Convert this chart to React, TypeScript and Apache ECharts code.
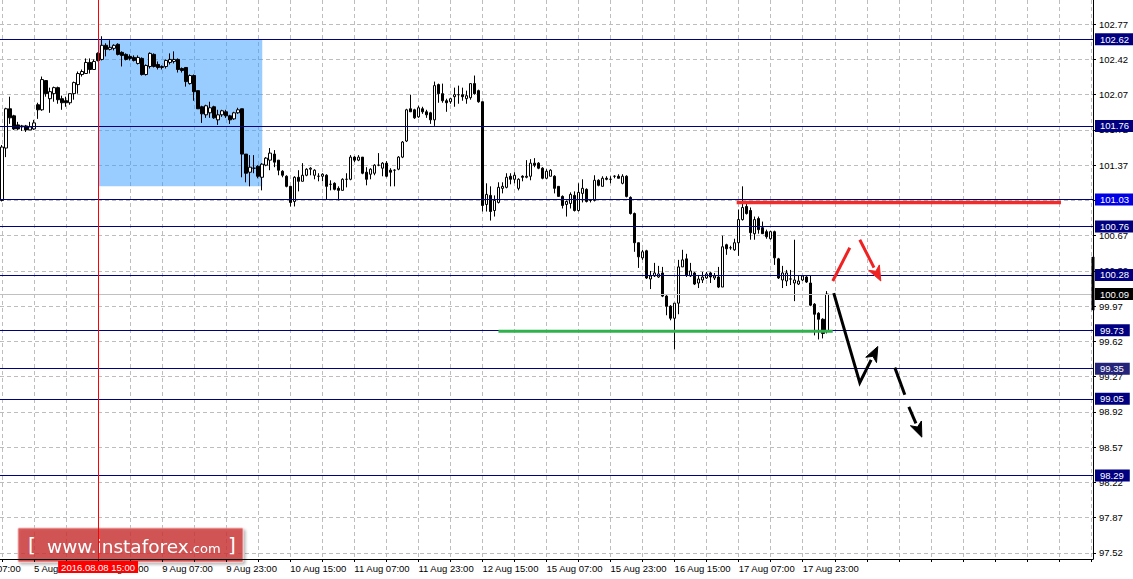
import React, { useEffect, useRef } from "react";
import * as echarts from "echarts";

const FONT = "'Liberation Sans', Arial, sans-serif";

// hourly candles, first one is Fri 5 Aug 2016 15:00 (weekend hours are skipped)
const startTime = Date.UTC(2016, 7, 5, 15);
const slotCount = 273;
const monthNames = ["Jan", "Feb", "Mar", "Apr", "May", "Jun", "Jul", "Aug", "Sep", "Oct", "Nov", "Dec"];

// [open, close, low, high]
const candles: number[][] = [
  [101.02, 101.55, 101.01, 101.57], [101.54, 101.93, 101.45, 101.94], [101.93, 101.84, 101.78, 102.05], [101.86, 101.73, 101.72, 101.87],
  [101.77, 101.73, 101.72, 101.80], [101.75, 101.76, 101.71, 101.77], [101.76, 101.72, 101.70, 101.77], [101.72, 101.75, 101.72, 101.80],
  [101.73, 101.79, 101.72, 101.82], [101.97, 101.92, 101.83, 101.99], [101.92, 102.22, 101.91, 102.25], [102.21, 102.08, 102.05, 102.21],
  [102.03, 102.10, 101.89, 102.14], [102.08, 102.14, 102.00, 102.15], [102.14, 102.02, 101.98, 102.15], [102.03, 101.99, 101.92, 102.06],
  [102.01, 101.99, 101.95, 102.05], [101.99, 102.08, 101.97, 102.08], [102.08, 102.19, 102.02, 102.20], [102.17, 102.28, 102.08, 102.30],
  [102.27, 102.30, 102.25, 102.32], [102.28, 102.39, 102.28, 102.43], [102.39, 102.32, 102.28, 102.43], [102.32, 102.40, 102.32, 102.42],
  [102.48, 102.41, 102.40, 102.49], [102.42, 102.56, 102.41, 102.65], [102.56, 102.52, 102.45, 102.58], [102.52, 102.54, 102.51, 102.61],
  [102.53, 102.56, 102.51, 102.57], [102.57, 102.47, 102.46, 102.58], [102.49, 102.46, 102.35, 102.50], [102.47, 102.42, 102.41, 102.48],
  [102.45, 102.43, 102.41, 102.47], [102.44, 102.41, 102.40, 102.46], [102.38, 102.44, 102.37, 102.46], [102.43, 102.27, 102.26, 102.44],
  [102.27, 102.36, 102.26, 102.37], [102.35, 102.48, 102.33, 102.49], [102.47, 102.35, 102.34, 102.48], [102.37, 102.34, 102.32, 102.40],
  [102.34, 102.35, 102.32, 102.36], [102.35, 102.41, 102.33, 102.42], [102.39, 102.42, 102.37, 102.48], [102.40, 102.42, 102.38, 102.50],
  [102.42, 102.32, 102.29, 102.43], [102.33, 102.31, 102.29, 102.34], [102.34, 102.20, 102.15, 102.34], [102.18, 102.26, 102.17, 102.27],
  [102.26, 102.10, 102.01, 102.27], [102.11, 101.93, 101.93, 102.11], [101.95, 101.88, 101.79, 101.96], [101.87, 101.96, 101.84, 101.97],
  [101.89, 101.94, 101.84, 102.00], [101.95, 101.84, 101.83, 101.96], [101.82, 101.87, 101.77, 101.92], [101.87, 101.91, 101.85, 101.92],
  [101.90, 101.86, 101.84, 101.92], [101.86, 101.82, 101.78, 101.87], [101.83, 101.89, 101.82, 101.90], [101.89, 101.92, 101.88, 101.94],
  [101.93, 101.48, 101.25, 101.93], [101.48, 101.29, 101.20, 101.48], [101.30, 101.35, 101.16, 101.47], [101.34, 101.34, 101.29, 101.47],
  [101.36, 101.26, 101.24, 101.37], [101.25, 101.38, 101.12, 101.39], [101.37, 101.44, 101.36, 101.45], [101.42, 101.49, 101.32, 101.54],
  [101.48, 101.40, 101.35, 101.52], [101.42, 101.32, 101.27, 101.42], [101.31, 101.27, 101.25, 101.32], [101.26, 101.16, 101.15, 101.27],
  [101.16, 101.00, 100.96, 101.16], [101.01, 101.25, 100.96, 101.26], [101.25, 101.21, 101.11, 101.32], [101.21, 101.27, 101.21, 101.39],
  [101.27, 101.33, 101.26, 101.34], [101.33, 101.34, 101.27, 101.35], [101.27, 101.32, 101.23, 101.33], [101.26, 101.26, 101.21, 101.29],
  [101.26, 101.28, 101.21, 101.29], [101.27, 101.16, 101.03, 101.28], [101.18, 101.18, 101.12, 101.22], [101.19, 101.13, 101.12, 101.20],
  [101.14, 101.12, 101.02, 101.16], [101.12, 101.23, 101.12, 101.24], [101.23, 101.23, 101.15, 101.29], [101.23, 101.45, 101.22, 101.47],
  [101.45, 101.42, 101.40, 101.46], [101.42, 101.45, 101.41, 101.47], [101.45, 101.29, 101.28, 101.45], [101.30, 101.23, 101.17, 101.35],
  [101.28, 101.33, 101.23, 101.34], [101.29, 101.37, 101.27, 101.38], [101.37, 101.37, 101.36, 101.49], [101.34, 101.39, 101.26, 101.40],
  [101.39, 101.26, 101.25, 101.41], [101.32, 101.30, 101.16, 101.34], [101.32, 101.32, 101.16, 101.33], [101.33, 101.45, 101.32, 101.46],
  [101.45, 101.60, 101.44, 101.61], [101.61, 101.92, 101.60, 101.93], [101.93, 101.90, 101.90, 102.07], [101.92, 101.84, 101.83, 101.93],
  [101.85, 101.94, 101.84, 101.96], [101.93, 101.90, 101.88, 101.95], [101.90, 101.87, 101.84, 101.92], [101.89, 101.82, 101.78, 101.90],
  [101.82, 102.16, 101.76, 102.20], [102.17, 102.08, 101.99, 102.18], [102.08, 102.01, 101.99, 102.18], [102.01, 101.99, 101.90, 102.03],
  [102.00, 102.03, 101.98, 102.04], [102.05, 102.07, 101.95, 102.14], [102.07, 102.07, 101.98, 102.16], [102.07, 102.05, 102.01, 102.14],
  [102.03, 102.06, 101.98, 102.11], [102.04, 102.18, 102.02, 102.18], [102.18, 102.08, 102.07, 102.26], [102.11, 102.00, 101.99, 102.12],
  [102.00, 100.97, 100.91, 102.00], [100.98, 101.08, 100.91, 101.19], [101.07, 100.91, 100.82, 101.16], [100.92, 101.02, 100.86, 101.07],
  [101.00, 101.15, 100.99, 101.20], [101.14, 101.16, 101.09, 101.20], [101.15, 101.25, 101.14, 101.29], [101.26, 101.23, 101.18, 101.29],
  [101.23, 101.27, 101.19, 101.30], [101.14, 101.23, 101.12, 101.24], [101.26, 101.25, 101.21, 101.27], [101.25, 101.26, 101.24, 101.42],
  [101.26, 101.39, 101.22, 101.43], [101.39, 101.37, 101.35, 101.44], [101.39, 101.34, 101.33, 101.40], [101.34, 101.24, 101.23, 101.35],
  [101.24, 101.31, 101.23, 101.33], [101.26, 101.32, 101.26, 101.33], [101.26, 101.14, 101.09, 101.27], [101.16, 101.06, 101.06, 101.16],
  [101.06, 100.97, 100.94, 101.07], [100.98, 101.01, 100.86, 101.02], [100.99, 101.08, 100.94, 101.10], [101.07, 100.92, 100.91, 101.11],
  [100.92, 101.10, 100.91, 101.19], [101.09, 101.14, 101.00, 101.23], [101.13, 101.01, 101.00, 101.14], [101.02, 101.02, 101.00, 101.03],
  [101.02, 101.22, 101.01, 101.27], [101.22, 101.17, 101.16, 101.23], [101.16, 101.24, 101.16, 101.26], [101.24, 101.23, 101.22, 101.26],
  [101.23, 101.23, 101.19, 101.26], [101.26, 101.26, 101.24, 101.27], [101.26, 101.24, 101.24, 101.28], [101.19, 101.26, 101.18, 101.28],
  [101.26, 101.06, 101.05, 101.27], [101.05, 100.89, 100.88, 101.06], [100.89, 100.60, 100.51, 100.90], [100.60, 100.46, 100.35, 100.60],
  [100.45, 100.51, 100.43, 100.53], [100.52, 100.25, 100.24, 100.53], [100.24, 100.27, 100.14, 100.32], [100.27, 100.30, 100.26, 100.40],
  [100.26, 100.29, 100.25, 100.37], [100.30, 100.07, 100.06, 100.36], [100.07, 99.97, 99.88, 100.08], [99.97, 99.85, 99.83, 99.98],
  [99.85, 100.00, 99.54, 100.00], [100.00, 100.36, 99.89, 100.43], [100.36, 100.43, 100.36, 100.53], [100.44, 100.28, 100.26, 100.49],
  [100.27, 100.32, 100.26, 100.40], [100.30, 100.19, 100.18, 100.31], [100.20, 100.24, 100.15, 100.28], [100.23, 100.26, 100.20, 100.31],
  [100.25, 100.29, 100.24, 100.31], [100.30, 100.26, 100.20, 100.31], [100.25, 100.27, 100.23, 100.30], [100.26, 100.16, 100.15, 100.36],
  [100.16, 100.56, 100.16, 100.67], [100.58, 100.54, 100.48, 100.59], [100.55, 100.55, 100.53, 100.57], [100.53, 100.60, 100.52, 100.64],
  [100.60, 100.83, 100.47, 100.93], [100.83, 100.95, 100.82, 101.16], [100.96, 100.89, 100.88, 100.99], [100.92, 100.70, 100.63, 100.95],
  [100.69, 100.83, 100.63, 100.86], [100.84, 100.73, 100.69, 100.86], [100.75, 100.69, 100.69, 100.81], [100.71, 100.66, 100.64, 100.73],
  [100.64, 100.71, 100.63, 100.72], [100.71, 100.45, 100.38, 100.72], [100.44, 100.25, 100.24, 100.45], [100.23, 100.30, 100.15, 100.37],
  [100.22, 100.30, 100.17, 100.33], [100.24, 100.24, 100.18, 100.33], [100.20, 100.23, 100.02, 100.63], [100.19, 100.22, 100.18, 100.27],
  [100.23, 100.27, 100.22, 100.28], [100.26, 100.21, 100.20, 100.27], [100.20, 99.98, 99.97, 100.27], [99.99, 99.89, 99.68, 100.00],
  [99.90, 99.84, 99.64, 99.91], [99.84, 99.70, 99.65, 99.85], [99.72, 100.09, 99.70, 100.12],
];

const yTicks = [102.77, 102.42, 102.07, 101.72, 101.37, 101.02, 100.67, 100.32, 99.97, 99.62, 99.27, 98.92, 98.57, 98.22, 97.87, 97.52];
const yMin = 97.46;
const yMax = 103.01;

const levels = [102.62, 101.76, 101.03, 100.76, 100.28, 99.73, 99.35, 99.05, 98.29];
const levelBoxColors = ["#000080", "#000080", "#0000e6", "#000080", "#000080", "#000080", "#23237a", "#000080", "#000080"];
const lastPrice = 100.09;
const markedIndex = 24;
const markedTime = "2016.08.08 15:00";
const previousLabel = "5 Aug 07:00";
const boxRange = { from: 24, to: 65, top: 102.62, bottom: 101.16 };

// hand-drawn annotations, [slot index, price]
const redLevel = [[183.5, 101.0], [264.5, 101.0]];
const greenLevel = [[124, 99.72], [207.5, 99.72]];
const redStroke = [[207.5, 100.22], [211.75, 100.55]];
const redArrow = [[214.25, 100.63], [219.5, 100.22]];
const blackPath = [[207.75, 100.1], [214.25, 99.21], [218.75, 99.57]];
const blackDash = [[223, 99.36], [225.5, 99.09]];
const blackArrow = [[226.5, 98.97], [229.75, 98.67]];
const axisBar = [100.46, 99.93];

const annotations = [
  { pts: redLevel, color: "#f02c2c", width: 3.5, arrow: false },
  { pts: greenLevel, color: "#2fb24c", width: 3, arrow: false },
  { pts: redStroke, color: "#ee2222", width: 3, arrow: false },
  { pts: redArrow, color: "#ee2222", width: 3, arrow: true },
  { pts: blackPath, color: "#000000", width: 3, arrow: true },
  { pts: blackDash, color: "#000000", width: 3, arrow: false },
  { pts: blackArrow, color: "#000000", width: 3, arrow: true },
  { pts: [], color: "#000000", width: 3, arrow: false, bar: true },
];

function pad(n: number) {
  return n < 10 ? "0" + n : "" + n;
}

function buildHours(): string[] {
  const out: string[] = [];
  let t = startTime;
  while (out.length < slotCount) {
    const d = new Date(t);
    const dow = d.getUTCDay();
    if (dow !== 0 && dow !== 6) {
      out.push(`${d.getUTCDate()} ${monthNames[d.getUTCMonth()]} ${pad(d.getUTCHours())}:00`);
    }
    t += 3600000;
  }
  return out;
}

export default function App() {
  const ref = useRef<HTMLDivElement>(null);

  useEffect(() => {
    if (!ref.current) return;
    const chart = echarts.init(ref.current, undefined, { renderer: "svg" });
    const hours = buildHours();

    const boxLabel = (text: string, bg: string) => ({
      show: true,
      position: "end",
      formatter: text,
      backgroundColor: bg,
      color: "#fff",
      padding: [1, 6, 0, 5],
      distance: 2,
      fontSize: 9.5,
      lineHeight: 11,
      fontFamily: FONT,
    });

    const levelLines = levels.map((v, k) => ({
      yAxis: v,
      lineStyle: { color: "#000080", width: 1, type: "solid" },
      label: boxLabel(v.toFixed(2), levelBoxColors[k]),
    }));

    const option: any = {
      animation: false,
      backgroundColor: "#fff",
      grid: { left: 0, right: 40, top: 0, bottom: 20, containLabel: false, outerBoundsMode: "none" },
      xAxis: {
        type: "category",
        data: hours,
        boundaryGap: true,
        axisLine: { show: true, lineStyle: { color: "#000", width: 1 } },
        axisTick: {
          show: true,
          alignWithLabel: true,
          interval: (i: number) => i % 8 === 0,
          length: 3,
          lineStyle: { color: "#000" },
        },
        axisLabel: {
          interval: (i: number) => i >= 8 && i < candles.length && (i - 8) % 16 === 0,
          align: "left",
          margin: 4,
          color: "#000",
          fontSize: 9.5,
          fontFamily: FONT,
        },
        splitLine: {
          show: true,
          interval: (i: number) => i % 8 === 0,
          alignWithLabel: true,
          lineStyle: { color: "#bdbdbd", type: [4, 3], width: 1 },
        },
      },
      yAxis: {
        type: "value",
        position: "right",
        min: yMin,
        max: yMax,
        axisLine: { show: true, lineStyle: { color: "#000", width: 1 } },
        axisTick: { show: true, length: 3, customValues: yTicks, lineStyle: { color: "#000" } },
        axisLabel: {
          customValues: yTicks,
          formatter: (v: number) => v.toFixed(2),
          color: "#000",
          fontSize: 9.5,
          fontFamily: FONT,
          margin: 6,
        },
        splitLine: { show: true, lineStyle: { color: "#bdbdbd", type: [4, 3], width: 1 } },
      },
      series: [
        {
          type: "candlestick",
          data: candles,
          barWidth: 3,
          silent: true,
          itemStyle: { color: "#fff", color0: "#000", borderColor: "#000", borderColor0: "#000", borderWidth: 1 },
          markArea: {
            silent: true,
            z: 1,
            itemStyle: { color: "rgba(51,153,255,0.5)" },
            data: [[{ xAxis: boxRange.from, yAxis: boxRange.top }, { xAxis: boxRange.to, yAxis: boxRange.bottom }]],
          },
          markLine: {
            silent: true,
            symbol: ["none", "none"],
            data: [
              ...levelLines,
              {
                yAxis: lastPrice,
                lineStyle: { color: "#c0c0c0", width: 1, type: "solid" },
                label: boxLabel(lastPrice.toFixed(2), "#000"),
              },
              {
                xAxis: markedIndex,
                lineStyle: { color: "#ff0000", width: 1, type: "solid" },
                label: {
                  show: true,
                  position: "start",
                  formatter: markedTime,
                  backgroundColor: "#ff0000",
                  color: "#fff",
                  padding: [1, 3, 0, 3],
                  distance: 2,
                  fontSize: 9.5,
                  lineHeight: 11,
                  fontFamily: FONT,
                },
              },
            ],
          },
        },
        {
          type: "custom",
          z: 6,
          silent: true,
          clip: false,
          data: annotations.map((_, k) => [k, lastPrice]),
          renderItem: (params: any, api: any) => {
            const a = annotations[params.dataIndex];
            const cs = params.coordSys;
            if ((a as any).bar) {
              const p1 = api.coord([0, axisBar[0]]);
              const p2 = api.coord([0, axisBar[1]]);
              const x = cs.x + cs.width;
              return {
                type: "line",
                shape: { x1: x, y1: p1[1], x2: x, y2: p2[1] },
                style: { stroke: "#000", lineWidth: 3 },
              };
            }
            const bw = api.size([1, 0])[0];
            const px = (pt: number[]) => {
              const b = Math.floor(pt[0]);
              const c = api.coord([b, pt[1]]);
              return [c[0] + (pt[0] - b) * bw, c[1]];
            };
            const pts = a.pts.map(px);
            const children: any[] = [];
            if (a.arrow) {
              const n = pts.length;
              const tip = pts[n - 1];
              const prev = pts[n - 2];
              const dx = tip[0] - prev[0];
              const dy = tip[1] - prev[1];
              const len = Math.sqrt(dx * dx + dy * dy) || 1;
              const ux = dx / len;
              const uy = dy / len;
              const headLen = 15;
              const headHalf = 6;
              const base = [tip[0] - ux * headLen, tip[1] - uy * headLen];
              const linePts = pts.slice(0, n - 1).concat([base]);
              children.push({
                type: "polyline",
                shape: { points: linePts },
                style: { stroke: a.color, lineWidth: a.width, fill: null },
              });
              children.push({
                type: "polygon",
                shape: {
                  points: [
                    tip,
                    [base[0] - uy * headHalf, base[1] + ux * headHalf],
                    [base[0] + ux * 4, base[1] + uy * 4],
                    [base[0] + uy * headHalf, base[1] - ux * headHalf],
                  ],
                },
                style: { fill: a.color, stroke: a.color, lineWidth: 1 },
              });
            } else {
              children.push({
                type: "polyline",
                shape: { points: pts },
                style: { stroke: a.color, lineWidth: a.width, fill: null },
              });
            }
            return { type: "group", children };
          },
        },
      ],
    };

    chart.setOption(option);

    // cut-off label of the slot 8 hours before the first label, and the watermark
    const c0 = chart.convertToPixel({ xAxisIndex: 0 }, 0) as number;
    const c1 = chart.convertToPixel({ xAxisIndex: 0 }, 1) as number;
    const bandW = c1 - c0;
    chart.setOption({
      graphic: [
        {
          type: "text",
          x: c0 - 8 * bandW,
          y: 563,
          z: 50,
          style: { text: previousLabel, fill: "#000", font: `9.5px ${FONT}` },
        },
        {
          type: "group",
          x: 18,
          y: 528,
          z: 100,
          children: [
            {
              type: "rect",
              shape: { x: 0, y: 0, width: 225, height: 34, r: 1 },
              style: {
                fill: "rgba(206,52,52,0.78)",
                stroke: "rgba(245,190,190,0.9)",
                lineWidth: 1,
                shadowBlur: 3,
                shadowColor: "rgba(0,0,0,0.35)",
                shadowOffsetX: 2,
                shadowOffsetY: 2,
              },
            },
            {
              type: "text",
              x: 10,
              y: 17,
              style: {
                text: "[",
                fill: "#fff",
                font: `20px 'DejaVu Sans', sans-serif`,
                verticalAlign: "middle",
              },
            },
            {
              type: "text",
              x: 29,
              y: 18,
              style: {
                text: "{a|www.instaforex}{b|.com}",
                verticalAlign: "middle",
                rich: {
                  a: { fill: "#fff", fontSize: 18.5, fontFamily: "'DejaVu Sans', sans-serif" },
                  b: { fill: "#fff", fontSize: 13, fontFamily: "'DejaVu Sans', sans-serif", padding: [4, 0, 0, 0] },
                },
                textShadowColor: "rgba(0,0,0,0.3)",
                textShadowBlur: 1,
              },
            },
            {
              type: "text",
              x: 210,
              y: 17,
              style: {
                text: "]",
                fill: "#fff",
                font: `20px 'DejaVu Sans', sans-serif`,
                verticalAlign: "middle",
              },
            },
          ],
        },
      ],
    });

    return () => chart.dispose();
  }, []);

  return (
    <div
      ref={ref}
      style={{ position: "absolute", left: 0, top: 0, width: 1133, height: 579, background: "#fff" }}
    />
  );
}
